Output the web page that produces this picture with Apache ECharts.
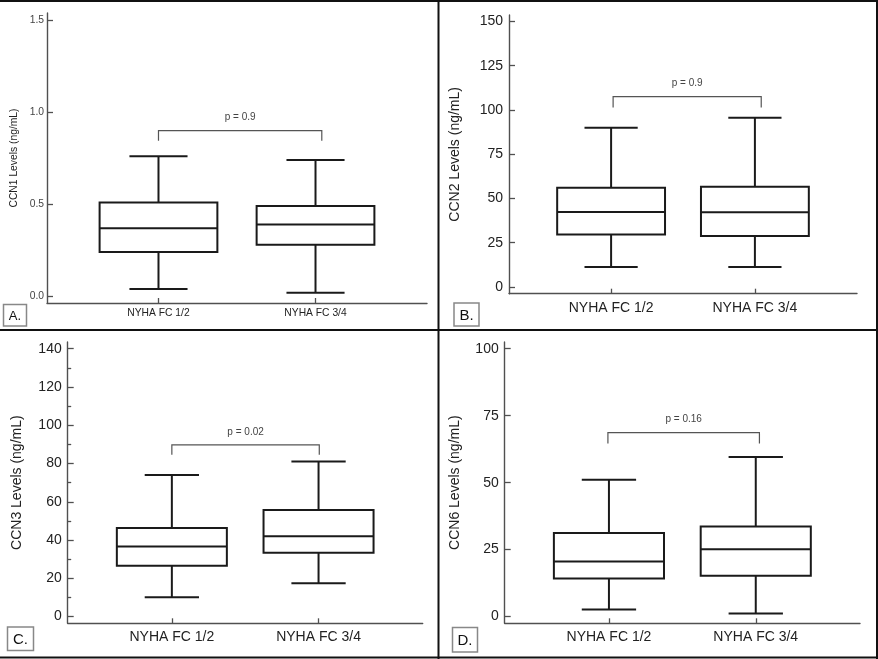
<!DOCTYPE html>
<html><head><meta charset="utf-8">
<script src="https://cdn.jsdelivr.net/npm/echarts@6/dist/echarts.min.js"></script>
<style>html,body{margin:0;padding:0;background:#fff}#c{width:878px;height:659px}</style>
</head><body><div id="c"></div>
<script>
// ---------- data ----------
const categories = ['NYHA FC 1/2', 'NYHA FC 3/4'];
// each box: [min, Q1, median, Q3, max]
const ccn1Values = [[0.04, 0.24, 0.37, 0.51, 0.76], [0.02, 0.28, 0.39, 0.49, 0.74]];
const ccn2Values = [[11.3, 29.7, 42.3, 56.1, 90.0], [11.3, 28.8, 42.2, 56.6, 95.6]];
const ccn3Values = [[10.1, 26.6, 36.6, 46.3, 74.0], [17.4, 33.4, 42.0, 55.7, 81.1]];
const ccn6Values = [[2.7, 14.2, 20.6, 31.2, 51.1], [1.2, 15.3, 25.1, 33.6, 59.6]];
const ccn1Ticks = [0, 0.5, 1.0, 1.5];
const ccn2Ticks = [0, 25, 50, 75, 100, 125, 150];
const ccn3Ticks = [0, 20, 40, 60, 80, 100, 120, 140];
const ccn3MinorTicks = [10, 30, 50, 70, 90, 110, 130];
const ccn6Ticks = [0, 25, 50, 75, 100];
const axisNames = ['CCN1 Levels (ng/mL)', 'CCN2 Levels (ng/mL)', 'CCN3 Levels (ng/mL)', 'CCN6 Levels (ng/mL)'];
const pLabels = ['p = 0.9', 'p = 0.9', 'p = 0.02', 'p = 0.16'];
// bracket levels: [bar level, leg end]
const bracketLevels = [[0.9, 0.845], [107.5, 101.3], [89.7, 84.6], [68.7, 64.6]];
const panelLetters = ['A.', 'B.', 'C.', 'D.'];

// ---------- layout ----------
const FONT = '"Liberation Sans", Arial, sans-serif';
const panels = [
  {values: ccn1Values, ticks: ccn1Ticks, minor: [], grid: {left: 47, top: 13, width: 380, height: 290},
   yMin: -0.0362, yMax: 1.538, fs: 10.3, labelColor: '#444', nameGap: 28, xMargin: 5, labelMargin: 3, dec: 1,
   bx: [1.0, 2.04]},
  {values: ccn2Values, ticks: ccn2Ticks, minor: [], grid: {left: 509, top: 15, width: 348, height: 278.7},
   yMin: -3.78, yMax: 153.6, fs: 14, labelColor: '#222', nameGap: 47, xMargin: 7, labelMargin: 6, dec: 0,
   bx: [1.014, 2.044]},
  {values: ccn3Values, ticks: ccn3Ticks, minor: ccn3MinorTicks, grid: {left: 67.7, top: 342, width: 355, height: 281.3},
   yMin: -3.48, yMax: 143.5, fs: 14, labelColor: '#222', nameGap: 44, xMargin: 7, labelMargin: 6, dec: 0,
   bx: [1.0, 2.005]},
  {values: ccn6Values, ticks: ccn6Ticks, minor: [], grid: {left: 504.7, top: 342, width: 355.3, height: 281.3},
   yMin: -2.49, yMax: 102.49, fs: 14, labelColor: '#222', nameGap: 43, xMargin: 7, labelMargin: 6, dec: 0,
   bx: [0.993, 2.025]}
];

const AX = '#505050';
const BOX = '#1a1a1a';

function renderBox(params, api) {
  const x = api.value(0);
  const lo = api.coord([x, api.value(1)]);
  const q1 = api.coord([x, api.value(2)]);
  const med = api.coord([x, api.value(3)]);
  const q3 = api.coord([x, api.value(4)]);
  const hi = api.coord([x, api.value(5)]);
  const hw = api.size([0.75, 0])[0] / 2;
  const cw = api.size([0.37, 0])[0] / 2;
  const st = {stroke: BOX, lineWidth: 2, fill: null};
  return {type: 'group', children: [
    {type: 'line', shape: {x1: lo[0], y1: lo[1], x2: q1[0], y2: q1[1]}, style: st},
    {type: 'line', shape: {x1: q3[0], y1: q3[1], x2: hi[0], y2: hi[1]}, style: st},
    {type: 'line', shape: {x1: lo[0] - cw, y1: lo[1], x2: lo[0] + cw, y2: lo[1]}, style: st},
    {type: 'line', shape: {x1: hi[0] - cw, y1: hi[1], x2: hi[0] + cw, y2: hi[1]}, style: st},
    {type: 'rect', shape: {x: q3[0] - hw, y: q3[1], width: 2 * hw, height: q1[1] - q3[1]},
     style: {stroke: BOX, lineWidth: 2, fill: '#fff'}},
    {type: 'line', shape: {x1: med[0] - hw, y1: med[1], x2: med[0] + hw, y2: med[1]}, style: st}
  ]};
}

function makeBracketRenderer(label) {
  return function (params, api) {
    const x1 = api.value(0), x2 = api.value(1), lv = api.value(2), leg = api.value(3);
    const a = api.coord([x1, leg]), b = api.coord([x1, lv]), c = api.coord([x2, lv]), d = api.coord([x2, leg]);
    return {type: 'group', children: [
      {type: 'polyline', shape: {points: [a, b, c, d]}, style: {stroke: '#555', lineWidth: 1.2, fill: null}},
      {type: 'text', x: (b[0] + c[0]) / 2, y: b[1] - 13,
       style: {text: label, fill: '#444', font: '10px ' + FONT, align: 'center', verticalAlign: 'middle'}}
    ]};
  };
}

const grids = [], xAxes = [], yAxes = [], series = [];
panels.forEach((p, i) => {
  grids.push(Object.assign({containLabel: false}, p.grid));
  xAxes.push({
    type: 'value', gridIndex: i, min: 0.29, max: 2.71, position: 'bottom',
    axisLine: {show: true, onZero: false, lineStyle: {color: AX, width: 1.4}},
    axisTick: {show: true, inside: true, length: 5, customValues: [1, 2], lineStyle: {color: AX, width: 1.3}},
    axisLabel: {show: true, customValues: [1, 2], margin: p.xMargin, fontSize: p.fs, color: '#222', fontFamily: FONT,
      formatter: v => categories[Math.round(v) - 1]},
    splitLine: {show: false}
  });
  yAxes.push({
    type: 'value', gridIndex: i, min: p.yMin, max: p.yMax, position: 'left',
    name: axisNames[i], nameLocation: 'middle', nameGap: p.nameGap,
    nameTextStyle: {fontSize: p.fs, color: '#222', fontFamily: FONT},
    axisLine: {show: true, onZero: false, lineStyle: {color: AX, width: 1.4}},
    axisTick: {show: true, inside: true, length: 6, customValues: p.ticks, lineStyle: {color: AX, width: 1.3}},
    axisLabel: {show: true, customValues: p.ticks, margin: p.labelMargin, fontSize: p.fs, color: p.labelColor, fontFamily: FONT,
      formatter: v => v.toFixed(p.dec)},
    splitLine: {show: false}
  });
  const yMain = yAxes.length - 1;
  if (p.minor.length) {
    yAxes.push({
      type: 'value', gridIndex: i, min: p.yMin, max: p.yMax, position: 'left', offset: 0,
      axisLine: {show: false, onZero: false},
      axisTick: {show: true, inside: true, length: 3.5, customValues: p.minor, lineStyle: {color: AX, width: 1.3}},
      axisLabel: {show: false}, splitLine: {show: false}
    });
  }
  series.push({
    type: 'custom', xAxisIndex: i, yAxisIndex: yMain,
    renderItem: renderBox,
    encode: {x: 0, y: [1, 2, 3, 4, 5]},
    data: p.values.map((v, k) => [k + 1].concat(v)),
    silent: true
  });
  series.push({
    type: 'custom', xAxisIndex: i, yAxisIndex: yMain,
    renderItem: makeBracketRenderer(pLabels[i]),
    encode: {x: [0, 1], y: [2, 3]},
    data: [[p.bx[0], p.bx[1], bracketLevels[i][0], bracketLevels[i][1]]],
    silent: true
  });
});

const letterBoxes = [
  {x: 3.5, y: 304.5, w: 23, h: 21.5, fs: 13},
  {x: 454, y: 303, w: 25, h: 23, fs: 15},
  {x: 7.5, y: 627, w: 26, h: 23.5, fs: 15},
  {x: 452.5, y: 627.5, w: 25, h: 24.5, fs: 15}
];
const graphics = [];
letterBoxes.forEach((b, i) => {
  graphics.push({type: 'rect', shape: {x: b.x, y: b.y, width: b.w, height: b.h},
    style: {stroke: '#888', lineWidth: 1.5, fill: '#fff'}, z: 10});
  graphics.push({type: 'text', x: b.x + b.w / 2, y: b.y + b.h / 2 + 1,
    style: {text: panelLetters[i], font: b.fs + 'px ' + FONT, fill: '#111', align: 'center', verticalAlign: 'middle'}, z: 11});
});
// frame lines
const FR = {stroke: '#111', lineWidth: 2};
graphics.push({type: 'line', shape: {x1: 0, y1: 1, x2: 878, y2: 1}, style: FR});
graphics.push({type: 'line', shape: {x1: 877, y1: 0, x2: 877, y2: 659}, style: FR});
graphics.push({type: 'line', shape: {x1: 0, y1: 657.5, x2: 878, y2: 657.5}, style: FR});
graphics.push({type: 'line', shape: {x1: 438.5, y1: 0, x2: 438.5, y2: 659}, style: FR});
graphics.push({type: 'line', shape: {x1: 0, y1: 330, x2: 878, y2: 330}, style: FR});

const chart = echarts.init(document.getElementById('c'), null, {renderer: 'canvas'});
chart.setOption({
  animation: false,
  backgroundColor: '#fff',
  textStyle: {fontFamily: FONT},
  grid: grids, xAxis: xAxes, yAxis: yAxes, series: series,
  graphic: graphics
});
</script></body></html>
